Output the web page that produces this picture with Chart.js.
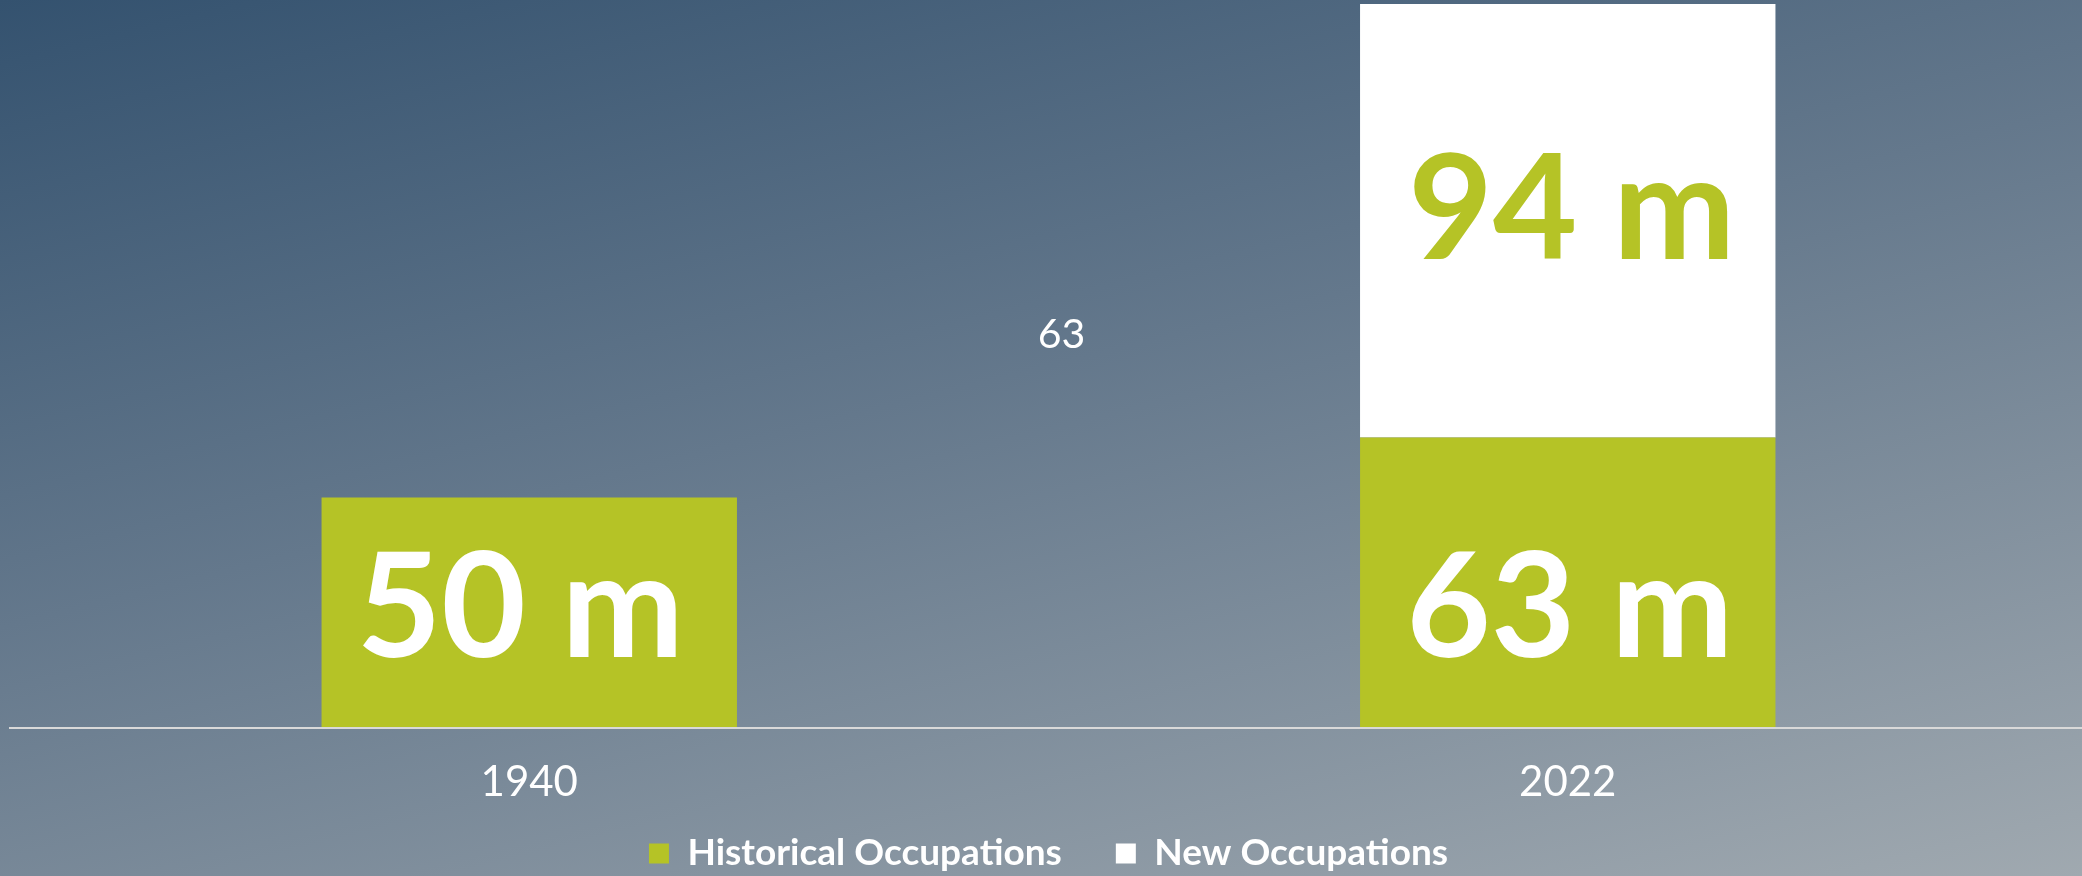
<!DOCTYPE html>
<html>
<head>
<meta charset="utf-8">
<script src="https://cdn.jsdelivr.net/npm/chart.js@4.4.1/dist/chart.umd.min.js"></script>
<style>
  html, body { margin: 0; padding: 0; width: 2082px; height: 876px; overflow: hidden; }
  body { background: linear-gradient(166deg, #34526f 0%, #64788c 45%, #a0a9b0 100%); font-family: Lato, sans-serif; }
  #wrap { position: absolute; left: 0; top: 0; width: 2090px; height: 882px; }
</style>
</head>
<body>
<div id="wrap"><canvas id="chart"></canvas></div>
<script>
// ---- data ----
const categories = ['1940', '2022'];
const historicalOccupations = [50, 63];
const newOccupations = [null, 94];
const seriesNames = ['Historical Occupations', 'New Occupations'];
const unitSuffix = ' m';
const floatingNoteText = String(historicalOccupations[1]);

// ---- style ----
const GREEN = '#b5c326';
const WHITE = '#ffffff';
const labelStyle = [
  { color: WHITE, shifts: [[-9, -8], [2, 22]] },
  { color: GREEN, shifts: [[0, 0], [4, -14]] }
];

// category scale whose tick labels are not clipped to the (compact) axis box
class OpenCategoryScale extends Chart.CategoryScale {
  _computeLabelArea() { return undefined; }
}
OpenCategoryScale.id = 'openCategory';
OpenCategoryScale.defaults = Chart.CategoryScale.defaults;
Chart.register(OpenCategoryScale);

const barLabels = {
  id: 'barLabels',
  afterDatasetsDraw(chart) {
    const ctx = chart.ctx;
    ctx.save();
    const fs = 146;
    ctx.font = 'bold ' + fs + 'px Lato';
    ctx.textAlign = 'center';
    ctx.textBaseline = 'alphabetic';
    chart.data.datasets.forEach((ds, di) => {
      const meta = chart.getDatasetMeta(di);
      meta.data.forEach((bar, i) => {
        const v = ds.data[i];
        if (v === null || v === undefined) return;
        const p = bar.getProps(['x', 'y', 'base'], true);
        const s = labelStyle[di].shifts[i];
        ctx.fillStyle = labelStyle[di].color;
        ctx.fillText(v + unitSuffix, p.x + s[0], (p.y + p.base) / 2 + 0.36 * fs + s[1]);
      });
    });
    // floating note between the categories
    const xs = chart.scales.x, ys = chart.scales.y;
    const mx = (xs.getPixelForValue(0) + xs.getPixelForValue(1)) / 2 + 13;
    ctx.font = '41px Lato';
    ctx.fillStyle = WHITE;
    ctx.fillText(floatingNoteText, mx, ys.getPixelForValue(82.4));
    ctx.restore();
  }
};

function draw() {
  new Chart(document.getElementById('chart'), {
    type: 'bar',
    data: {
      labels: categories,
      datasets: [
        { label: seriesNames[0], data: historicalOccupations, backgroundColor: GREEN, borderWidth: 0,
          categoryPercentage: 0.8, barPercentage: 0.5 },
        { label: seriesNames[1], data: newOccupations, backgroundColor: WHITE, borderWidth: 0,
          categoryPercentage: 0.8, barPercentage: 0.5 }
      ]
    },
    options: {
      responsive: true,
      maintainAspectRatio: false,
      animation: false,
      layout: { padding: { left: 10, right: 3, top: 4, bottom: 0 } },
      scales: {
        x: {
          type: 'openCategory',
          stacked: true,
          grid: { display: false, drawTicks: false },
          border: { display: true, color: '#d9d9d9', width: 2, z: 1 },
          ticks: { color: '#ffffff', font: { family: 'Lato', size: 42 }, padding: 29 },
          afterFit: (scale) => { scale.height = 53; }
        },
        y: { stacked: true, display: false, min: 0, max: 157 }
      },
      plugins: {
        legend: {
          position: 'bottom',
          labels: {
            color: '#ffffff',
            font: { family: 'Lato', size: 37, weight: 'bold' },
            boxWidth: 20,
            boxHeight: 20,
            padding: 54
          }
        },
        tooltip: { enabled: false }
      }
    },
    plugins: [barLabels]
  });
}
if (document.fonts && document.fonts.load) {
  Promise.all([
    document.fonts.load('bold 146px Lato'),
    document.fonts.load('41px Lato')
  ]).then(draw, draw);
} else { draw(); }
</script>
</body>
</html>
